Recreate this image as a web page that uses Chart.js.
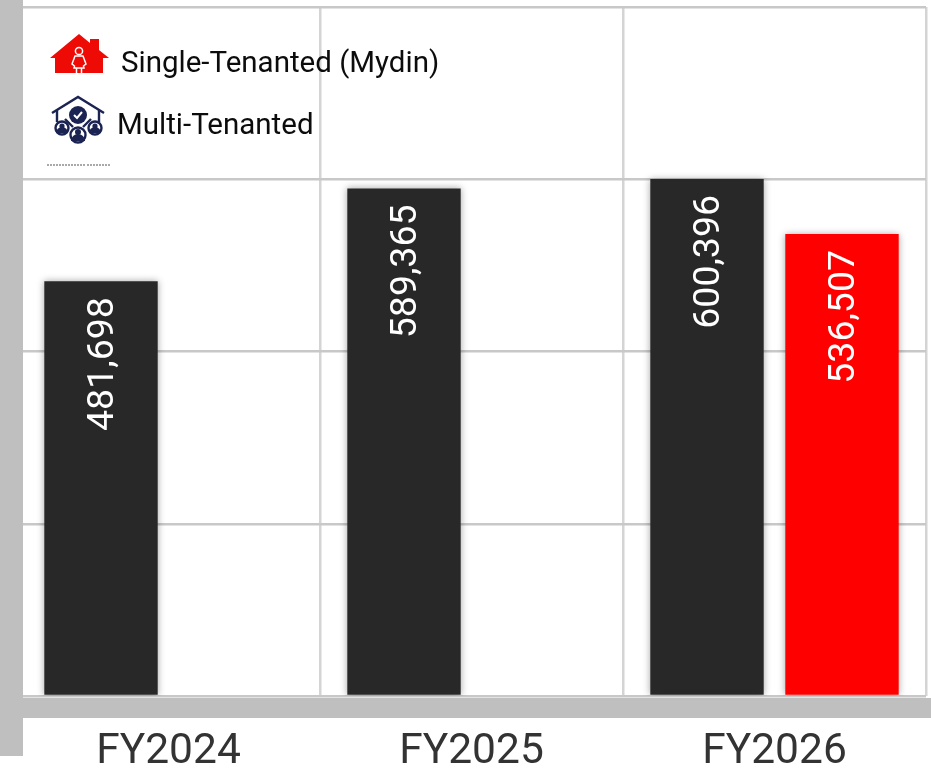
<!DOCTYPE html>
<html><head><meta charset="utf-8">
<script src="https://cdn.jsdelivr.net/npm/chart.js@4"></script>
<style>
html,body{margin:0;padding:0;background:#fff;width:931px;height:768px;overflow:hidden;font-family:Roboto,sans-serif}
#wrap{position:relative;width:931px;height:768px}
canvas{position:absolute;left:0;top:0}
.g{position:absolute;background:#bfbfbf}
.t{position:absolute;font-size:29.5px;color:#0c0c0c;line-height:34px;white-space:nowrap}
svg{position:absolute}
</style></head><body>
<div id="wrap">
<canvas id="c" width="931" height="768"></canvas>
<div class="g" style="left:0;top:0;width:23px;height:756px"></div>
<div class="g" style="left:0;top:698px;width:931px;height:20px"></div>
<svg style="left:49px;top:33px" width="60" height="41" viewBox="0 0 60 41">
<path d="M1 25 L30 1 L41 10 L41 6 L50 6 L50 17 L60 25 L54 25 L54 40 L6 40 L6 25 Z" fill="#ee0a05"/>
<g fill="none" stroke="#fff" stroke-width="1.5"><circle cx="30" cy="18" r="3.6"/><path d="M26 23 L34 23 L37 31 L34.5 33 L35 35 L25 35 L25.5 33 L23 31 Z"/><path d="M27.5 35 V40 M32.5 35 V40"/></g>
</svg>
<svg style="left:51px;top:95px" width="56" height="50" viewBox="0 0 56 50">
<g fill="none" stroke="#1b2352" stroke-width="2.4"><path d="M1 18 L27 2 L53 18"/><path d="M6 15 V27 M48 15 V27"/><path d="M14 24 L22 32 M40 24 L32 32"/><circle cx="11" cy="33" r="6.5"/><circle cx="27" cy="40" r="7.5"/><circle cx="44" cy="33" r="6.5"/></g>
<circle cx="27" cy="20" r="9" fill="#1b2352"/><path d="M23 20 L26 23 L31 17" fill="none" stroke="#fff" stroke-width="2"/>
<g fill="#1b2352"><path d="M5 38 a6 6 0 0 1 12 0 Z"/><path d="M20 46 a7 7 0 0 1 14 0 Z"/><path d="M38 38 a6 6 0 0 1 12 0 Z"/><circle cx="11" cy="31" r="2.6"/><circle cx="27" cy="37" r="3"/><circle cx="44" cy="31" r="2.6"/></g>
</svg>
<svg style="left:47px;top:163px" width="64" height="4"><path d="M0 2 H38 M40 2 H63" stroke="#555" stroke-width="1.2" stroke-dasharray="2 1"/></svg>
<div class="t" style="left:121px;top:45px">Single-Tenanted (Mydin)</div>
<div class="t" style="left:117px;top:107px">Multi-Tenanted</div>
</div>
<script>
const categories = ["FY2024", "FY2025", "FY2026"];
const multiTenanted = [481698, 589365, 600396];
const singleTenanted = [null, null, 536507];
const axisMax = 800000;
const axisStep = 200000;

const valueLabels = {
  id: 'valueLabels',
  afterDatasetsDraw(chart) {
    const ctx = chart.ctx;
    chart.data.datasets.forEach((ds, i) => {
      chart.getDatasetMeta(i).data.forEach((bar, j) => {
        const v = ds.data[j];
        if (v == null) return;
        ctx.save();
        ctx.translate(bar.x + 2, bar.y + 16);
        ctx.rotate(-Math.PI / 2);
        ctx.font = '37.5px Roboto';
        ctx.fillStyle = '#fff';
        ctx.textAlign = 'right';
        ctx.textBaseline = 'middle';
        ctx.fillText(v.toLocaleString('en-US'), 0, 1);
        ctx.restore();
      });
    });
  }
};
const barShadow = {
  id: 'barShadow',
  beforeDatasetsDraw(c) { c.ctx.save(); c.ctx.shadowColor = 'rgba(0,0,0,0.35)'; c.ctx.shadowBlur = 7; },
  afterDatasetsDraw(c) { c.ctx.restore(); }
};

new Chart(document.getElementById('c'), {
  type: 'bar',
  data: {
    labels: categories,
    datasets: [
      { label: 'Multi-Tenanted', data: multiTenanted, backgroundColor: '#282828', barPercentage: 0.84, categoryPercentage: 0.891 },
      { label: 'Single-Tenanted (Mydin)', data: singleTenanted, backgroundColor: '#ff0000', barPercentage: 0.84, categoryPercentage: 0.891 }
    ]
  },
  options: {
    responsive: false,
    animation: false,
    layout: { padding: { left: 17, right: 5, top: 7, bottom: 0 } },
    plugins: { legend: { display: false }, tooltip: { enabled: false } },
    scales: {
      x: {
        grid: { color: '#d4d4d4', lineWidth: 2.5, drawTicks: false },
        border: { display: false },
        afterFit(s) { s.height = 72; },
        ticks: { color: '#333333', font: { family: 'Roboto', size: 42.5 }, padding: 31, maxRotation: 0 }
      },
      y: {
        display: true, min: 0, max: axisMax,
        afterFit(s) { s.width = 0; },
        ticks: { display: false, stepSize: axisStep, drawTicks: false },
        grid: { color: '#c8c8c8', lineWidth: 2.5, drawTicks: false },
        border: { display: false }
      }
    }
  },
  plugins: [barShadow, valueLabels]
});
</script>
</body></html>
